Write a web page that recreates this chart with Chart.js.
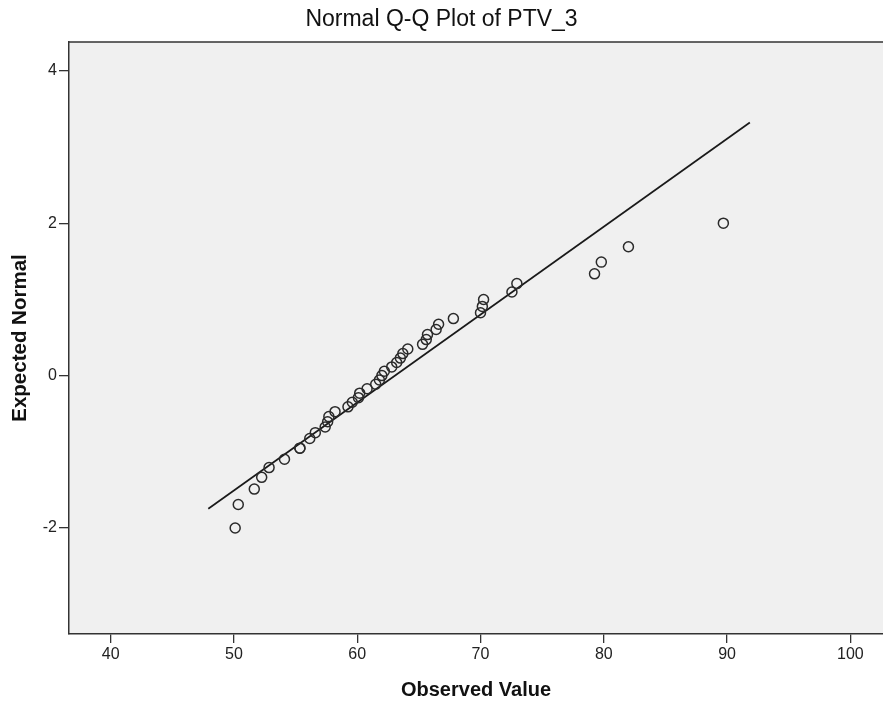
<!DOCTYPE html>
<html>
<head>
<meta charset="utf-8">
<script src="https://cdn.jsdelivr.net/npm/chart.js@4/dist/chart.umd.min.js"></script>
<style>
  html, body { margin: 0; padding: 0; background: #ffffff; overflow: hidden; }
  #wrap { width: 883px; height: 704px; }
</style>
</head>
<body>
<div id="wrap"><canvas id="c" width="883" height="704"></canvas></div>
<script>
const observed = [50.1, 50.35, 51.65, 52.25, 52.85, 54.1, 55.35, 55.35, 56.15, 56.6,
  57.4, 57.6, 57.7, 58.2, 59.25, 59.6, 60.1, 60.2, 60.8, 61.5,
  61.8, 62.0, 62.2, 62.8, 63.2, 63.5, 63.7, 64.1, 65.3, 65.6,
  65.7, 66.4, 66.6, 67.8, 70.0, 70.15, 70.25, 72.55, 72.95, 79.25,
  79.8, 82.0, 89.7];
const expected = [-2.0, -1.691, -1.489, -1.335, -1.207, -1.097, -0.952, -0.952, -0.825, -0.748,
  -0.674, -0.605, -0.538, -0.473, -0.41, -0.349, -0.289, -0.23, -0.172, -0.114,
  -0.057, 0.0, 0.057, 0.114, 0.172, 0.23, 0.289, 0.349, 0.41, 0.473,
  0.538, 0.605, 0.674, 0.748, 0.825, 0.908, 0.998, 1.097, 1.207, 1.335,
  1.489, 1.691, 2.0];
// Reference line end points
const lineX = [47.92, 91.85];
const lineY = [-1.747, 3.32];
// Tick labels
const xTicks = [40, 50, 60, 70, 80, 90, 100];
const yTicks = [-2, 0, 2, 4];

const FONT = "'Liberation Sans', Arial, sans-serif";

const plotBg = {
  id: 'plotBg',
  beforeDraw(chart) {
    const { ctx, chartArea: a } = chart;
    ctx.save();
    ctx.fillStyle = '#f0f0f0';
    ctx.fillRect(a.left, a.top, a.right - a.left, a.bottom - a.top);
    ctx.restore();
  },
  afterDraw(chart) {
    const { ctx, chartArea: a } = chart;
    ctx.save();
    ctx.strokeStyle = '#333333';
    ctx.lineWidth = 1.5;
    ctx.beginPath();
    ctx.moveTo(a.left, a.top);
    ctx.lineTo(a.right, a.top);
    ctx.stroke();
    ctx.restore();
  }
};

const scatterData = observed.map((v, i) => ({ x: v, y: expected[i] }));
const lineData = lineX.map((v, i) => ({ x: v, y: lineY[i] }));

new Chart(document.getElementById('c'), {
  type: 'scatter',
  data: {
    datasets: [
      {
        label: 'Observed',
        data: scatterData,
        pointStyle: 'circle',
        pointRadius: 5,
        pointHoverRadius: 5,
        backgroundColor: 'rgba(0,0,0,0)',
        borderColor: '#2a2a2a',
        borderWidth: 1.5
      },
      {
        label: 'Line',
        type: 'line',
        data: lineData,
        borderColor: '#1a1a1a',
        borderWidth: 1.7,
        pointRadius: 0,
        fill: false,
        tension: 0
      }
    ]
  },
  options: {
    responsive: false,
    animation: false,
    devicePixelRatio: 1,
    layout: { autoPadding: false, padding: { left: 0, right: 0, top: 0, bottom: 0 } },
    plugins: {
      legend: { display: false },
      tooltip: { enabled: false },
      title: {
        display: true,
        text: 'Normal Q-Q Plot of PTV_3',
        color: '#111111',
        font: { family: FONT, size: 23, weight: 'normal' },
        padding: { top: 6, bottom: 8.4 }
      }
    },
    scales: {
      x: {
        type: 'linear',
        min: 36.62,
        max: 102.65,
        afterBuildTicks: s => { s.ticks = xTicks.map(v => ({ value: v })); },
        afterFit: s => { s.height = 70; },
        grid: { display: true, drawOnChartArea: false, drawTicks: true, tickLength: 9, color: '#333333', lineWidth: 1.3 },
        border: { display: true, color: '#333333', width: 1.5 },
        ticks: { color: '#222222', font: { family: FONT, size: 16 }, padding: 2 },
        title: {
          display: true,
          text: 'Observed Value',
          color: '#111111',
          font: { family: FONT, size: 20, weight: 'bold' },
          padding: { top: 0, bottom: 2 }
        }
      },
      y: {
        type: 'linear',
        min: -3.39,
        max: 4.377,
        afterBuildTicks: s => { s.ticks = yTicks.map(v => ({ value: v })); },
        afterFit: s => { s.width = 69; },
        grid: { display: true, drawOnChartArea: false, drawTicks: true, tickLength: 10, color: '#333333', lineWidth: 1.3 },
        border: { display: true, color: '#333333', width: 1.5 },
        ticks: { color: '#222222', font: { family: FONT, size: 16 }, padding: 2 },
        title: {
          display: true,
          text: 'Expected Normal',
          color: '#111111',
          font: { family: FONT, size: 20.5, weight: 'bold' },
          padding: { top: 8, bottom: 0 }
        }
      }
    }
  },
  plugins: [plotBg]
});
</script>
</body>
</html>
